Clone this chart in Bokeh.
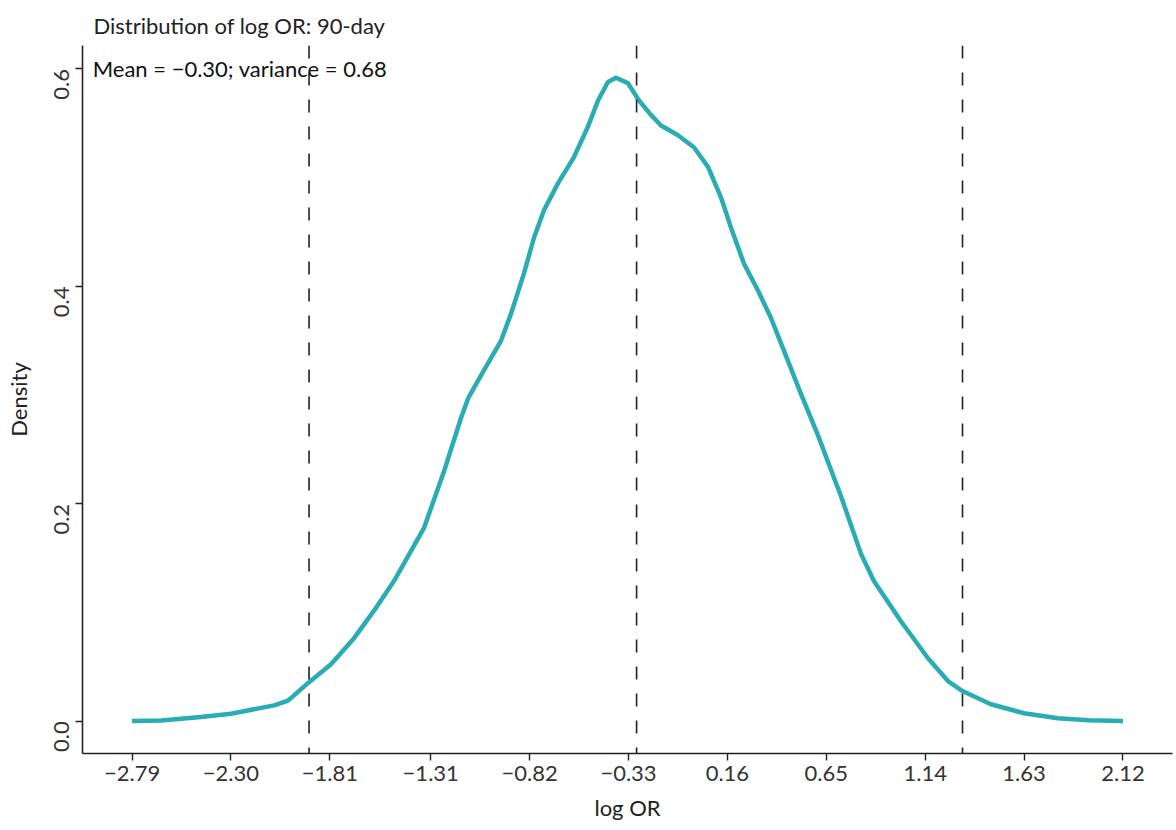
import math
from bokeh.plotting import figure
from bokeh.models import Range1d, FixedTicker, Span, Label
from bokeh.embed import file_html
from bokeh.resources import INLINE

log_or = [-2.790, -2.646, -2.448, -2.300, -2.086, -2.017, -1.913, -1.804, -1.690,
          -1.590, -1.492, -1.343, -1.244, -1.160, -1.125, -1.046, -0.962, -0.912,
          -0.848, -0.798, -0.749, -0.679, -0.600, -0.531, -0.481, -0.432, -0.392,
          -0.333, -0.278, -0.220, -0.169, -0.085, -0.006, 0.064, 0.128, 0.178,
          0.242, 0.312, 0.376, 0.440, 0.525, 0.609, 0.688, 0.723, 0.822, 0.886,
          1.020, 1.154, 1.253, 1.327, 1.466, 1.630, 1.798, 1.950, 2.120]
density = [0.0003, 0.0008, 0.0040, 0.0070, 0.0147, 0.0190, 0.0360, 0.0525, 0.0765,
           0.1020, 0.1290, 0.1780, 0.2300, 0.2790, 0.2970, 0.3230, 0.3500, 0.3750,
           0.4120, 0.4450, 0.4700, 0.4950, 0.5190, 0.5470, 0.5710, 0.5880, 0.5920,
           0.5870, 0.5710, 0.5580, 0.5480, 0.5390, 0.5280, 0.5100, 0.4820, 0.4540,
           0.4210, 0.3960, 0.3710, 0.3410, 0.3010, 0.2630, 0.2240, 0.2070, 0.1540,
           0.1290, 0.0920, 0.0580, 0.0370, 0.0276, 0.0157, 0.0074, 0.0028, 0.0010,
           0.0003]

# reference lines (dashed)
vlines = [-1.913, -0.29, 1.325]

x_ticks = [-2.79, -2.30, -1.81, -1.31, -0.82, -0.33, 0.16, 0.65, 1.14, 1.63, 2.12]
x_tick_labels = ["\u22122.79", "\u22122.30", "\u22121.81", "\u22121.31", "\u22120.82",
                 "\u22120.33", "0.16", "0.65", "1.14", "1.63", "2.12"]
y_ticks = [0.0, 0.2, 0.4, 0.6]
y_tick_labels = ["0.0", "0.2", "0.4", "0.6"]

title_text = "Distribution of log OR: 90-day"
annot_text = "Mean = \u22120.30; variance = 0.68"

FONT = "Lato"
FS = "22px"
TXT = "#222222"

p = figure(width=1176, height=830, output_backend="svg", toolbar_location=None,
           x_range=Range1d(-3.0355, 2.3655), y_range=Range1d(-0.0296, 0.6216),
           min_border_left=82, min_border_right=4, min_border_top=45,
           min_border_bottom=77)
p.outline_line_color = None
p.xgrid.visible = False
p.ygrid.visible = False
p.background_fill_color = "white"
p.border_fill_color = "white"

p.title.text = title_text
p.title.align = "left"
p.title.offset = 11
p.title.standoff = 14
p.title.text_font = FONT
p.title.text_font_size = FS
p.title.text_font_style = "normal"
p.title.text_color = TXT

p.line(log_or, density, line_color="#2AACB5", line_width=4.5, line_join="round")

for v in vlines:
    p.add_layout(Span(location=v, dimension="height", line_color="#222222",
                      line_width=1.6, line_dash="13 14"))

for ax in (p.xaxis, p.yaxis):
    ax.axis_line_color = "#222222"
    ax.axis_line_width = 1.6
    ax.major_tick_line_color = "#222222"
    ax.major_tick_line_width = 1.4
    ax.major_tick_out = 7
    ax.major_tick_in = 0
    ax.minor_tick_line_color = None
    ax.major_label_text_font = FONT
    ax.major_label_text_font_size = FS
    ax.major_label_text_color = "#333333"
    ax.axis_label_text_font = FONT
    ax.axis_label_text_font_size = FS
    ax.axis_label_text_font_style = "normal"
    ax.axis_label_text_color = TXT

p.xaxis.ticker = FixedTicker(ticks=x_ticks)
p.xaxis.major_label_overrides = {t: l for t, l in zip(x_ticks, x_tick_labels)}
p.xaxis.axis_label = "log OR"
p.xaxis.major_label_standoff = 5
p.xaxis.axis_label_standoff = 10

p.yaxis.ticker = FixedTicker(ticks=y_ticks)
p.yaxis.major_label_overrides = {t: l for t, l in zip(y_ticks, y_tick_labels)}
p.yaxis.major_label_orientation = math.pi / 2
p.yaxis.axis_label = "Density"
p.yaxis.major_label_standoff = 14
p.yaxis.axis_label_standoff = 12

p.add_layout(Label(x=-2.985, y=0.6, text=annot_text, text_font=FONT,
                   text_font_size=FS, text_color="#111111", text_baseline="middle",
                   text_align="left"))

open("out.html", "w").write(file_html(p, INLINE))
